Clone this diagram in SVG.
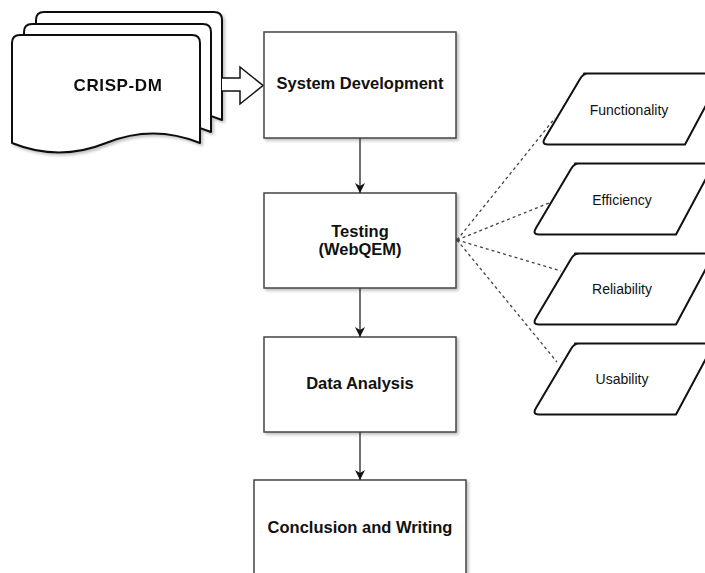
<svg xmlns="http://www.w3.org/2000/svg" width="705" height="573" viewBox="0 0 705 573">
  <defs>
    <filter id="shadow" x="-10%" y="-10%" width="125%" height="125%">
      <feDropShadow dx="2" dy="2" stdDeviation="1.5" flood-color="#000" flood-opacity="0.25"/>
    </filter>
    <marker id="arrow" viewBox="0 0 10 10" refX="10" refY="5" markerWidth="10" markerHeight="10" markerUnits="userSpaceOnUse" orient="auto">
      <path d="M0,0 L10,5 L0,10 L3,5 z" fill="#111"/>
    </marker>
    <style>
      .box { fill: #fff; stroke: #444; stroke-width: 1.5; }
      .doc { fill: #fff; stroke: #111; stroke-width: 2; stroke-linejoin: round; }
      .para { fill: #fff; stroke: #111; stroke-width: 2; stroke-linejoin: round; }
      .flow { fill: none; stroke: #333; stroke-width: 1.4; }
      .dash { fill: none; stroke: #444; stroke-width: 1.3; stroke-dasharray: 3 3; }
      .bold { font-family: "Liberation Sans", Arial, sans-serif; font-weight: bold; font-size: 16.5px; fill: #111; text-anchor: middle; }
      .small { font-family: "Liberation Sans", Arial, sans-serif; font-size: 14px; fill: #111; text-anchor: middle; }
    </style>
  </defs>
  <rect width="705" height="573" fill="#fff"/>

  <!-- stacked documents -->
  <g id="crisp-dm" filter="url(#shadow)">
    <path class="doc" d="M44,12 H214 Q222,12 222,20 V120 Q175.5,101 129,120 Q82.5,139 36,120 V20 Q36,12 44,12 Z"/>
    <path class="doc" d="M32,24 H203 Q211,24 211,32 V132 Q164,113 117.5,132 Q71,151 24,132 V32 Q24,24 32,24 Z"/>
    <path class="doc" d="M20,35 H192 Q200,35 200,43 V143 Q153,124 106,143 Q59,162 12,143 V43 Q12,35 20,35 Z"/>
    <text class="bold" x="118" y="91" style="font-size:17px;letter-spacing:0.6px">CRISP-DM</text>
  </g>

  <!-- hollow block arrow into development -->
  <g id="block-arrow">
    <path d="M222,78 H240 V67 L263,85.5 L240,104 V91 H222" fill="#fff" stroke="#111" stroke-width="1.5" stroke-linejoin="miter"/>
  </g>

  <g id="system-development">
    <rect class="box" x="264" y="32" width="192" height="106" filter="url(#shadow)"/>
    <text class="bold" x="360" y="89">System Development</text>
  </g>

  <g id="testing">
    <rect class="box" x="264" y="193" width="192" height="95" filter="url(#shadow)"/>
    <text class="bold" x="360" y="237">Testing</text>
    <text class="bold" x="360" y="255">(WebQEM)</text>
  </g>

  <g id="data-analysis">
    <rect class="box" x="264" y="337" width="192" height="95" filter="url(#shadow)"/>
    <text class="bold" x="360" y="389">Data Analysis</text>
  </g>

  <g id="conclusion">
    <rect class="box" x="254" y="480" width="212" height="96" filter="url(#shadow)"/>
    <text class="bold" x="360" y="533">Conclusion and Writing</text>
  </g>

  <!-- quality characteristics -->
  <g id="functionality">
    <path class="para" d="M584,73.5 H723 L685,144.5 H548 Q541,144.5 545,138 L580,79 Q583,73.5 588,73.5 Z"/>
    <text class="small" x="629" y="115">Functionality</text>
  </g>
  <g id="efficiency">
    <path class="para" d="M575,163.5 H714 L676,234.5 H539 Q532,234.5 536,228 L571,169 Q574,163.5 579,163.5 Z"/>
    <text class="small" x="622" y="205">Efficiency</text>
  </g>
  <g id="reliability">
    <path class="para" d="M575,253.5 H714 L676,324.5 H539 Q532,324.5 536,318 L571,259 Q574,253.5 579,253.5 Z"/>
    <text class="small" x="622" y="294">Reliability</text>
  </g>
  <g id="usability">
    <path class="para" d="M575,343.5 H714 L676,414.5 H539 Q532,414.5 536,408 L571,349 Q574,343.5 579,343.5 Z"/>
    <text class="small" x="622" y="384">Usability</text>
  </g>

  <!-- connectors -->
  <g id="connectors">
    <line class="flow" x1="360" y1="138" x2="360" y2="193" marker-end="url(#arrow)"/>
    <line class="flow" x1="360" y1="288" x2="360" y2="337" marker-end="url(#arrow)"/>
    <line class="flow" x1="360" y1="432" x2="360" y2="480" marker-end="url(#arrow)"/>
    <line class="dash" x1="457" y1="240" x2="555" y2="118"/>
    <line class="dash" x1="457" y1="240" x2="549" y2="203"/>
    <line class="dash" x1="457" y1="240" x2="561" y2="271"/>
    <line class="dash" x1="457" y1="240" x2="557" y2="362"/>
    <circle cx="457.5" cy="240" r="1.8" fill="#444"/>
  </g>
</svg>
